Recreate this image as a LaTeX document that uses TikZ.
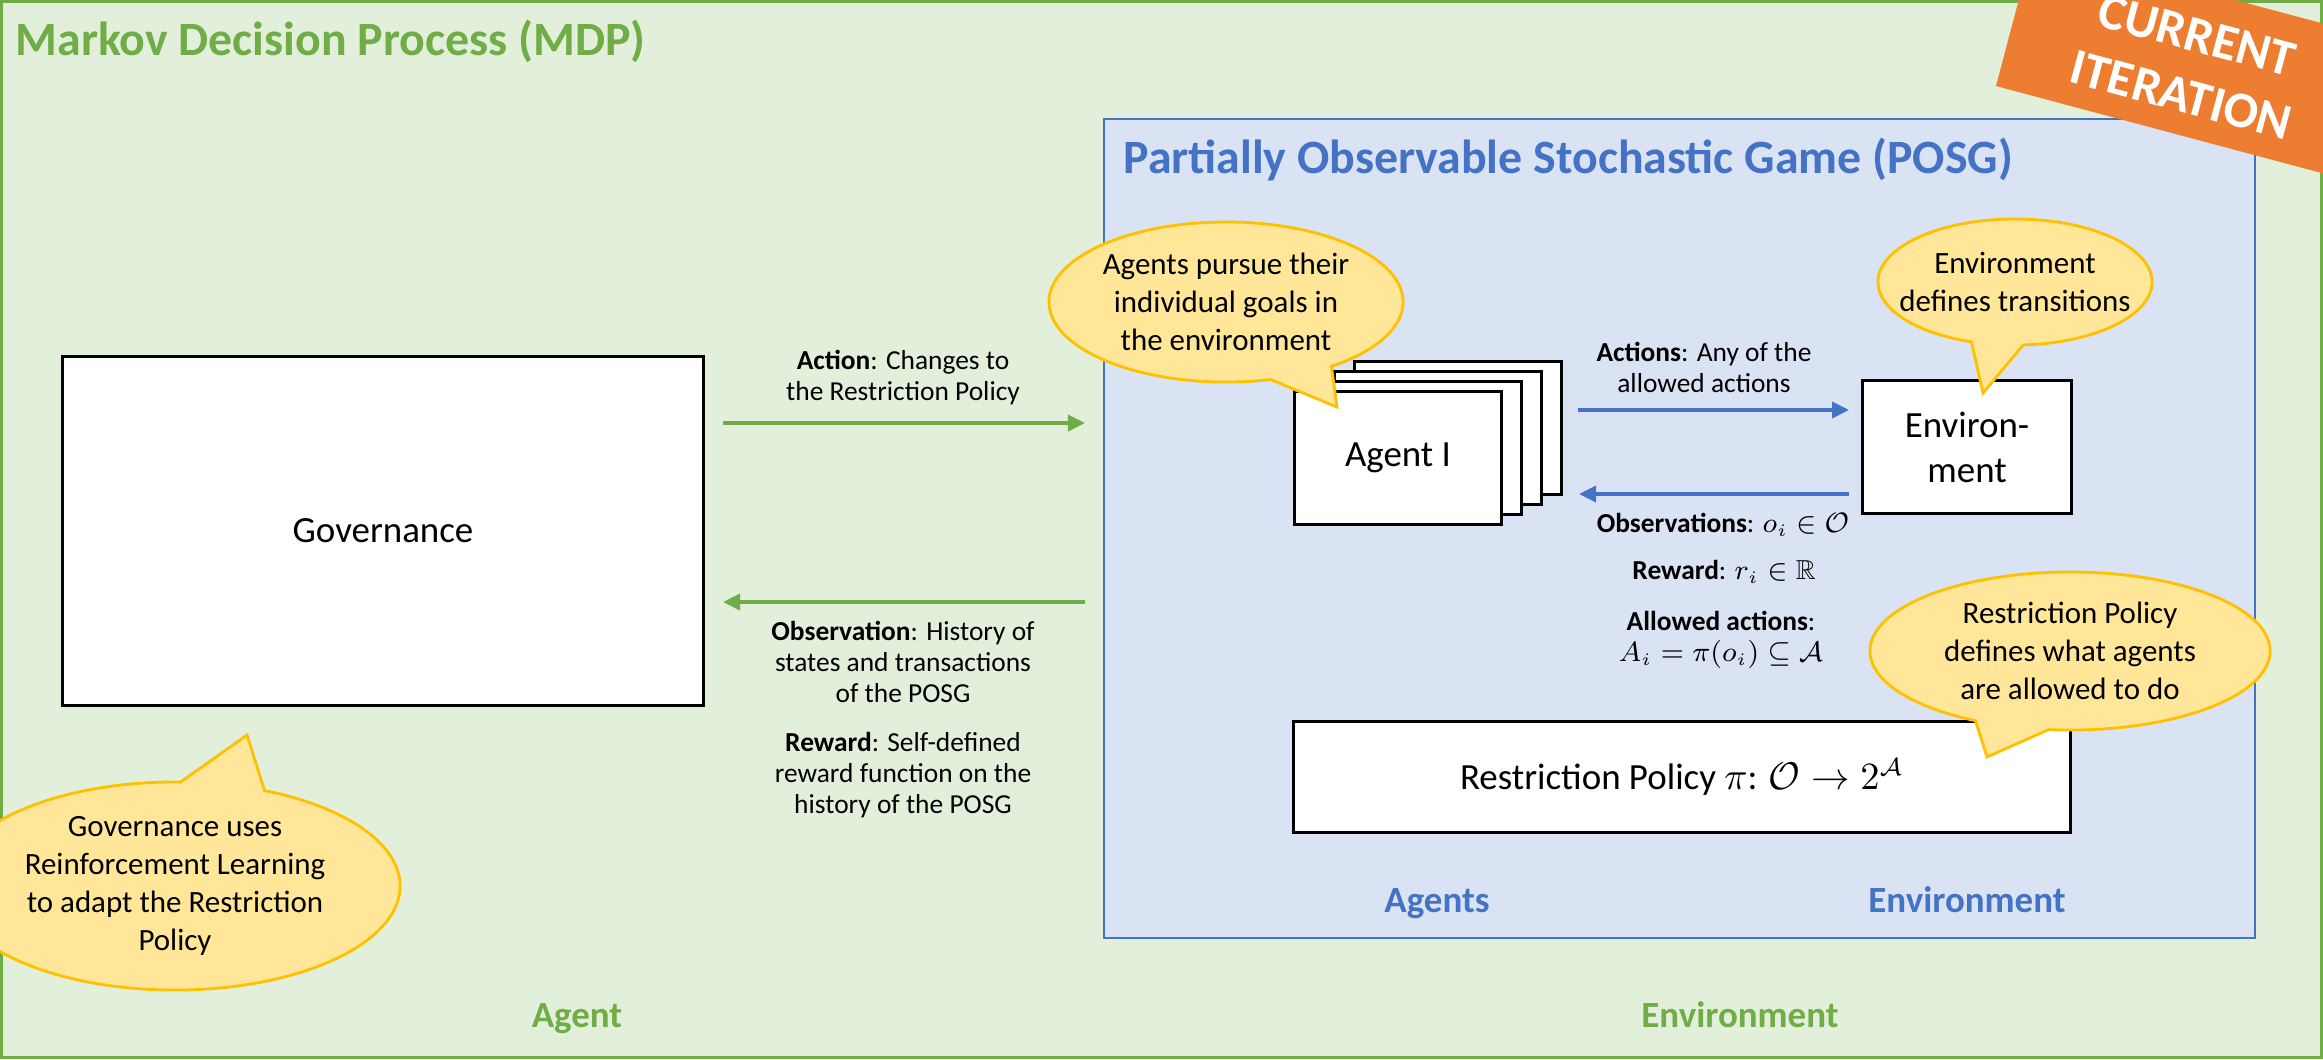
\documentclass[tikz,border=0pt]{standalone}
\usepackage{fontspec}
\setmainfont{Carlito}
\usepackage{amssymb}
\usetikzlibrary{arrows.meta,shapes.callouts}
\definecolor{MdpClr}{RGB}{112,173,71}
\definecolor{MdpFill}{RGB}{226,239,218}
\definecolor{PosgClr}{RGB}{68,114,196}
\definecolor{PosgFill}{RGB}{218,227,243}
\definecolor{NoteClr}{RGB}{255,192,0}
\definecolor{NoteFill}{RGB}{255,230,153}
\definecolor{FlagClr}{RGB}{237,125,49}

\begin{document}
\begin{tikzpicture}[x=0.01cm,y=-0.01cm,
  box/.style={draw=black,line width=0.8pt,fill=white,inner sep=0pt,align=center,font=\fontsize{10.5}{12.8}\selectfont},
  bubble/.style={ellipse callout,draw=NoteClr,line width=0.8pt,fill=NoteFill,inner sep=0pt,callout pointer arc=22},
  note/.style={align=center,inner sep=0pt,font=\fontsize{8.8}{10.8}\selectfont},
  lbl/.style={align=center,inner sep=0pt,font=\fontsize{7.8}{8.8}\selectfont},
  head/.style={anchor=base west,inner sep=0pt,font=\bfseries\fontsize{13.6}{15.6}\selectfont},
  part/.style={anchor=base,inner sep=0pt,font=\bfseries\fontsize{10.5}{12}\selectfont},
  garrow/.style={draw=MdpClr,line width=1pt,-{Triangle[length=0.17cm,width=0.16cm]}},
  barrow/.style={draw=PosgClr,line width=1pt,-{Triangle[length=0.17cm,width=0.16cm]}}]

\useasboundingbox (0,0) rectangle (2323,1059);
\begin{scope}
\clip (0,0) rectangle (2323,1059);

\draw[draw=MdpClr,fill=MdpFill,line width=0.85pt] (1.5,1.5) rectangle (2321.5,1057.5);
\draw[draw=PosgClr,fill=PosgFill,line width=0.8pt] (1104,119) rectangle (2255,938);

\node[head,text=MdpClr] (mdptitle) at (15,55) {Markov Decision Process (MDP)};
\node[head,text=PosgClr] (posgtitle) at (1123,173) {Partially Observable Stochastic Game (POSG)};

\node[box,minimum width=6.41cm,minimum height=3.49cm] (gov) at (383,531) {Governance};

\foreach \k in {3,2,1}
  \node[box,minimum width=2.07cm,minimum height=1.33cm] (agent\k) at (1398+20*\k,458-10*\k) {};
\node[box,minimum width=2.07cm,minimum height=1.33cm] (agent) at (1398,458) {Agent I};

\node[box,minimum width=2.09cm,minimum height=1.33cm] (env) at (1967,447) {Environ-\\ment};
\node[box,minimum width=7.77cm,minimum height=1.11cm] (rp) at (1682,777)
  {Restriction Policy $\pi$: $\mathcal{O}\rightarrow 2^{\mathcal{A}}$};

\coordinate (actL) at (723,423);
\coordinate (actR) at (1085,423);
\coordinate (obsR) at (1085,602);
\coordinate (obsL) at (723,602);
\draw[garrow] (actL) -- (actR);
\draw[garrow] (obsR) -- (obsL);

\coordinate (agtA) at (1578,410);
\coordinate (envA) at (1849,410);
\coordinate (envO) at (1849,494);
\coordinate (agtO) at (1579,494);
\draw[barrow] (agtA) -- (envA);
\draw[barrow] (envO) -- (agtO);

\node[lbl] (actlbl) at (903,378) {\textbf{Action}: Changes to\\the Restriction Policy};
\node[lbl] (obslbl) at (903,662) {\textbf{Observation}: History of\\states and transactions\\of the POSG};
\node[lbl] (rewlbl) at (903,775) {\textbf{Reward}: Self-defined\\reward function on the\\history of the POSG};

\node[lbl] (actslbl) at (1704,367) {\textbf{Actions}: Any of the\\allowed actions};
\node[lbl] (obsilbl) at (1723,525) {\textbf{Observations}: $o_i\in\mathcal{O}$};
\node[lbl] (rewilbl) at (1724,572) {\textbf{Reward}: $r_i\in\mathbb{R}$};
\node[lbl] (allowlbl) at (1721,640) {\textbf{Allowed actions}:\\$A_i=\pi(o_i)\subseteq\mathcal{A}$};

\node[part,text=PosgClr] (agentspart) at (1437,912) {Agents};
\node[part,text=PosgClr] (envpart) at (1967,912) {Environment};
\node[part,text=MdpClr] (agentpart) at (577,1027) {Agent};
\node[part,text=MdpClr] (worldpart) at (1740,1027) {Environment};

\coordinate (govtip) at (247,735);
\coordinate (agtip) at (1337,407);
\coordinate (envtip) at (1983,393);
\coordinate (rptip) at (1987,757);

\node[bubble,minimum width=4.5cm,minimum height=2.08cm,callout absolute pointer={(govtip)},
  label={[note]center:Governance uses\\Reinforcement Learning\\to adapt the Restriction\\Policy}] (govnote) at (175,886) {};
\node[bubble,minimum width=3.54cm,minimum height=1.6cm,callout absolute pointer={(agtip)},
  label={[note]center:Agents pursue their\\individual goals in\\the environment}] (agnote) at (1226,302) {};
\node[bubble,minimum width=2.74cm,minimum height=1.26cm,callout absolute pointer={(envtip)},
  label={[note]center:Environment\\defines transitions}] (envnote) at (2015,282) {};
\node[bubble,minimum width=4.0cm,minimum height=1.58cm,callout absolute pointer={(rptip)},
  label={[note]center:Restriction Policy\\defines what agents\\are allowed to do}] (rpnote) at (2070,651) {};

\fill[FlagClr] (1996,86) -- (2033,-54) -- (2613,101) -- (2576,241) -- cycle;
\node[rotate=-15,align=center,inner sep=0pt,text=white,font=\bfseries\fontsize{14.5}{17.6}\selectfont]
  (iter) at (2189,65) {CURRENT\\ITERATION};
\end{scope}
\end{tikzpicture}
\end{document}
